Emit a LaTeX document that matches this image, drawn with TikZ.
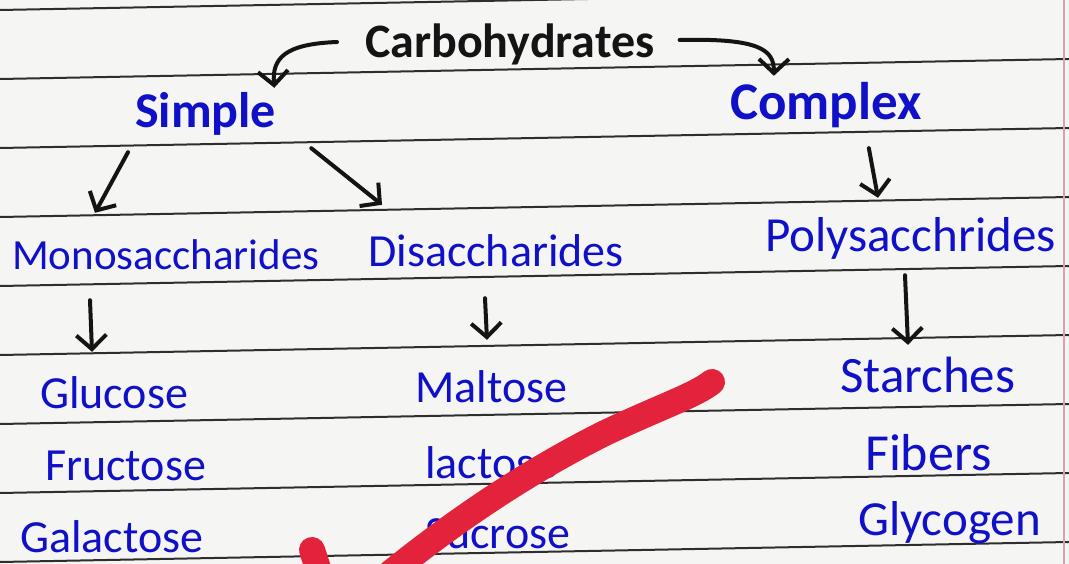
\documentclass[tikz,border=0pt]{standalone}
\usepackage{fontspec}
\setmainfont{Carlito}
\usetikzlibrary{calc, arrows.meta}

\begin{document}
\begin{tikzpicture}[x=1pt, y=-1pt,
    title/.style={inkBlack, font=\bfseries\fontsize{48}{54}\selectfont, anchor=base west, inner sep=0pt, text height=32pt, text depth=8pt},
    kind/.style={inkBlue, font=\bfseries\fontsize{50}{56}\selectfont, anchor=base west, inner sep=0pt, text height=32pt, text depth=8pt},
    group/.style={inkBlue, font=\fontsize{46}{52}\selectfont, anchor=base west, inner sep=0pt, text height=32pt, text depth=8pt},
    sugar/.style={group},
    ink/.style={draw=inkBlack, line width=4pt, line cap=round, line join=round, -{Straight Barb[length=14pt,width=30pt,line width=4pt]}},
    rule/.style={draw=ruleGray, line width=2pt}]
    % Define colours
    \definecolor{inkBlue}{HTML}{1010C8}
    \definecolor{inkBlack}{HTML}{141414}
    \definecolor{ruleGray}{HTML}{2E2E2E}
    \definecolor{paper}{HTML}{F5F5F3}
    \definecolor{checkRed}{HTML}{E2233B}
    \definecolor{marginPink}{HTML}{D9A0B0}

    % Define page size
    \def\pageW{1069}
    \def\pageH{564}

    % Draw paper
    \fill[paper] (0,0) rectangle (\pageW,\pageH);
    \useasboundingbox (0,0) rectangle (\pageW,\pageH);

    % Draw ruled lines
    \foreach \i in {0,...,8}
        \draw[rule] (0,10+69*\i) -- (\pageW,-10+69*\i);
    \draw[marginPink, line width=1.2pt] (1064,0) -- (1064,\pageH);

    % Draw headings
    \node[title] (carb) at (365,58) {Carbohydrates};
    \node[kind] (simple) at (135,128) {Simple};
    \node[kind, font=\bfseries\fontsize{53}{58}\selectfont] (complex) at (730,120) {Complex};

    % Draw groups
    \node[group, font=\fontsize{43}{50}\selectfont] (mono) at (12,270) {Monosaccharides};
    \node[group] (di) at (368,267) {Disaccharides};
    \node[group, font=\fontsize{49}{54}\selectfont] (poly) at (765,252) {Polysacchrides};

    % Draw sugars
    \node[sugar] (glucose) at (40,408) {Glucose};
    \node[sugar] (fructose) at (45,480) {Fructose};
    \node[sugar] (galactose) at (20,552) {Galactose};
    \node[sugar] (maltose) at (415,402) {Maltose};
    \node[sugar] (lactose) at (425,478) {lactose};
    \node[sugar] (sucrose) at (425,548) {Sucrose};
    \node[sugar, font=\fontsize{51}{56}\selectfont] (starches) at (840,392) {Starches};
    \node[sugar, font=\fontsize{52}{56}\selectfont] (fibers) at (865,470) {Fibers};
    \node[sugar, font=\fontsize{49}{54}\selectfont] (glycogen) at (858,535) {Glycogen};

    % Draw arrows
    \draw[ink] ($(carb.west)+(-28,-4)$) .. controls (285,44) and (272,58) .. ($(simple.north east)+(-2,-8)$);
    \draw[ink] ($(carb.east)+(25,-6)$) .. controls (760,38) and (774,50) .. ($(complex.north)+(-52,-12)$);
    \draw[ink] ($(simple.south west)+(-7,16)$) -- ($(mono.north west)+(83,-25)$);
    \draw[ink] ($(simple.south east)+(35,12)$) -- ($(di.north west)+(14,-30)$);
    \draw[ink] ($(complex.south)+(43,20)$) -- ($(poly.north west)+(113,-22)$);
    \draw[ink] ($(mono.south west)+(78,22)$) -- ($(glucose.north west)+(52,-24)$);
    \draw[ink] ($(di.south west)+(117,23)$) -- ($(maltose.north west)+(72,-30)$);
    \draw[ink] ($(poly.south west)+(140,15)$) -- ($(starches.north west)+(68,-15)$);

    % Draw red tick
    \begin{scope}
        \clip (0,0) rectangle (\pageW,\pageH);
        \draw[checkRed, line width=26pt, line cap=round, line join=round]
            (312,550) -- (335,620) .. controls (425,540) and (515,478) .. (605,433)
            .. controls (662,406) and (694,396) .. (712,382);
    \end{scope}
\end{tikzpicture}
\end{document}
